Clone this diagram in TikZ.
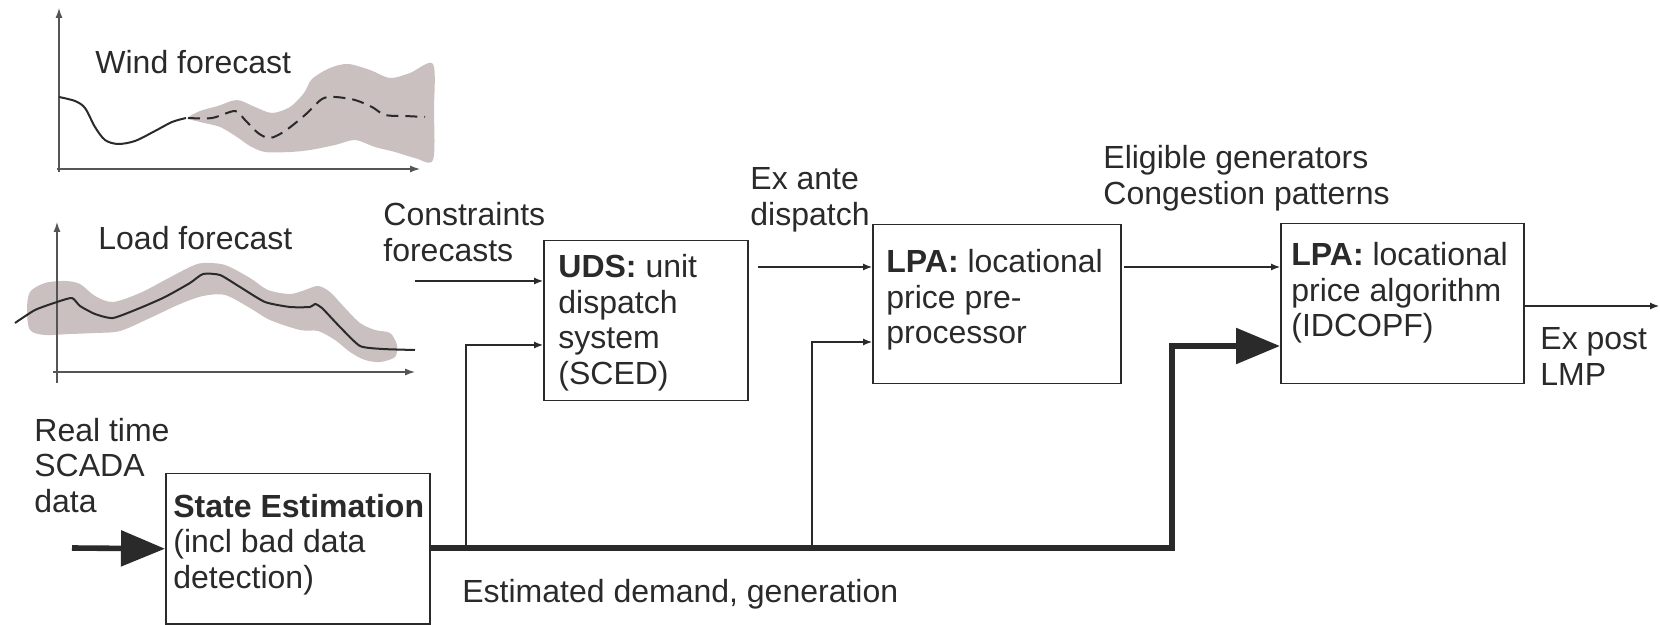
\documentclass[tikz,border=0pt]{standalone}
\usepackage{fontspec}
\setmainfont{Liberation Sans}
\usetikzlibrary{arrows.meta}
\definecolor{band}{RGB}{201,192,191}
\definecolor{ink}{RGB}{42,42,42}
\definecolor{axisc}{RGB}{85,85,85}
\begin{document}
\begin{tikzpicture}[x=0.5pt,y=-0.5pt,
  txt/.style={font=\fontsize{16}{17.75}\selectfont, text=ink, inner sep=0pt, anchor=base west, align=left},
  boxst/.style={draw=ink, line width=0.75pt, inner sep=0pt, anchor=north west},
  thinarr/.style={draw=ink, line width=0.6pt, -{Latex[length=4.5pt,width=3.5pt]}},
  thickarr/.style={draw=ink, line width=2.8pt, -{Triangle[length=22pt,width=17.5pt]}},
  axisst/.style={draw=axisc, line width=0.6pt, -{Latex[length=5pt,width=3.5pt]}},
  curve/.style={draw=ink, line width=1pt, line join=round},
]
\useasboundingbox (0,0) rectangle (1660,625);

% ---------- wind forecast plot ----------
\fill[band] plot[smooth cycle, tension=0.5] coordinates {
  (188,118) (200,111) (218,106) (237,100) (255,107) (272,113) (290,107) (304,93)
  (312,79) (330,68) (348,64) (370,70) (390,78) (410,73) (433,64)
  (434,110) (433,160) (415,158) (395,152) (375,147) (355,140) (335,145)
  (310,150) (290,152) (265,152) (250,146) (237,137) (220,127) (200,122)};
\draw[axisst] (59,172) -- (59,8);
\draw[axisst] (57,169) -- (420,169);
\draw[curve] plot[smooth] coordinates {(59,97) (75,101) (85,108) (95,127) (105,140) (118,144) (135,141) (155,131) (172,122) (186,118)};
\draw[curve, dash pattern=on 6pt off 3.5pt] plot[smooth] coordinates {(188,118) (212,118) (235,111) (245,120) (258,133) (270,138) (285,131) (305,115) (322,99) (335,97) (355,100) (372,107) (385,115) (405,116) (425,117)};
\node[txt] (windT) at (95,74) {Wind forecast};

% ---------- load forecast plot ----------
\fill[band] plot[smooth cycle, tension=0.5] coordinates {
  (30,292) (45,283) (65,281) (80,284) (95,296) (113,302) (140,293) (165,280)
  (190,267) (203,263) (225,265) (250,278) (268,290) (290,294) (305,290) (318,286)
  (330,292) (345,308) (360,323) (375,330) (390,333) (397,345)
  (395,357) (380,362) (365,360) (350,352) (335,340) (318,331) (300,330) (270,320)
  (250,308) (225,295) (203,296) (180,304) (150,318) (120,331) (95,333) (70,334)
  (45,335) (30,330) (27,310)};
\draw[axisst] (57,383) -- (57,222);
\draw[axisst] (53,372) -- (415,372);
\draw[curve] plot[smooth, tension=0.35] coordinates {(15,323) (35,310) (57,302) (72,298) (80,306) (95,314) (113,318) (140,308) (165,297) (190,283) (203,274) (220,275) (240,287) (265,302) (290,307) (310,307) (315,304) (322,308) (340,327) (360,346) (383,349) (415,350)};
\node[txt] (loadT) at (98,250) {Load forecast};

% ---------- boxes ----------
\node[boxst, minimum width=102pt, minimum height=80pt] (uds) at (543,240) {};
\node[boxst, minimum width=124pt, minimum height=79.5pt] (lpa1) at (872,224) {};
\node[boxst, minimum width=121.5pt, minimum height=80pt] (lpa2) at (1280,223) {};
\node[boxst, minimum width=132pt, minimum height=75pt] (se) at (165,473) {};

% multi-line texts: anchor is the baseline of the last line
\node[txt] (udsT) at (558,384.5) {\textbf{UDS:} unit\\dispatch\\system\\(SCED)};
\node[txt] (lpa1T) at (886,344) {\textbf{LPA:} locational\\price pre-\\processor};
\node[txt] (lpa2T) at (1291,337) {\textbf{LPA:} locational\\price algorithm\\(IDCOPF)};
\node[txt] (seT) at (173,588) {\textbf{State Estimation}\\(incl bad data\\detection)};

% ---------- labels ----------
\node[txt] (consT) at (383,261.5) {Constraints\\forecasts};
\node[txt] (exanteT) at (750,225.5) {Ex ante\\dispatch};
\node[txt] (eligT) at (1103,204.5) {Eligible generators\\Congestion patterns};
\node[txt] (scadaT) at (34,512) {Real time\\SCADA\\data};
\node[txt] (expostT) at (1540,385.5) {Ex post\\LMP};
\node[txt] (estT) at (462,602) {Estimated demand, generation};

% ---------- connectors ----------
\coordinate (cin) at (415,281);
\draw[thinarr] (cin) -- (cin -| uds.west);

\coordinate (b1) at (466,548);
\coordinate (b1t) at (466,345);
\draw[thinarr] (b1) -- (b1t) -- (b1t -| uds.west);

\coordinate (b2) at (812,548);
\coordinate (b2t) at (812,342);
\draw[thinarr] (b2) -- (b2t) -- (b2t -| lpa1.west);

\coordinate (ea) at (758,267);
\draw[thinarr] (ea) -- (ea -| lpa1.west);

\coordinate (eg) at (1124,267);
\draw[thinarr] (eg) -- (eg -| lpa2.west);

\coordinate (outp) at (1659,306);
\draw[thinarr] (lpa2.east |- outp) -- (outp);

\coordinate (scada) at (72,548);
\draw[thickarr] (scada) -- (se.west);

\coordinate (corner) at (1172,548);
\coordinate (rise) at (1172,346);
\draw[thickarr] (se.east |- corner) -- (corner) -- (rise) -- (rise -| lpa2.west);
\end{tikzpicture}
\end{document}
